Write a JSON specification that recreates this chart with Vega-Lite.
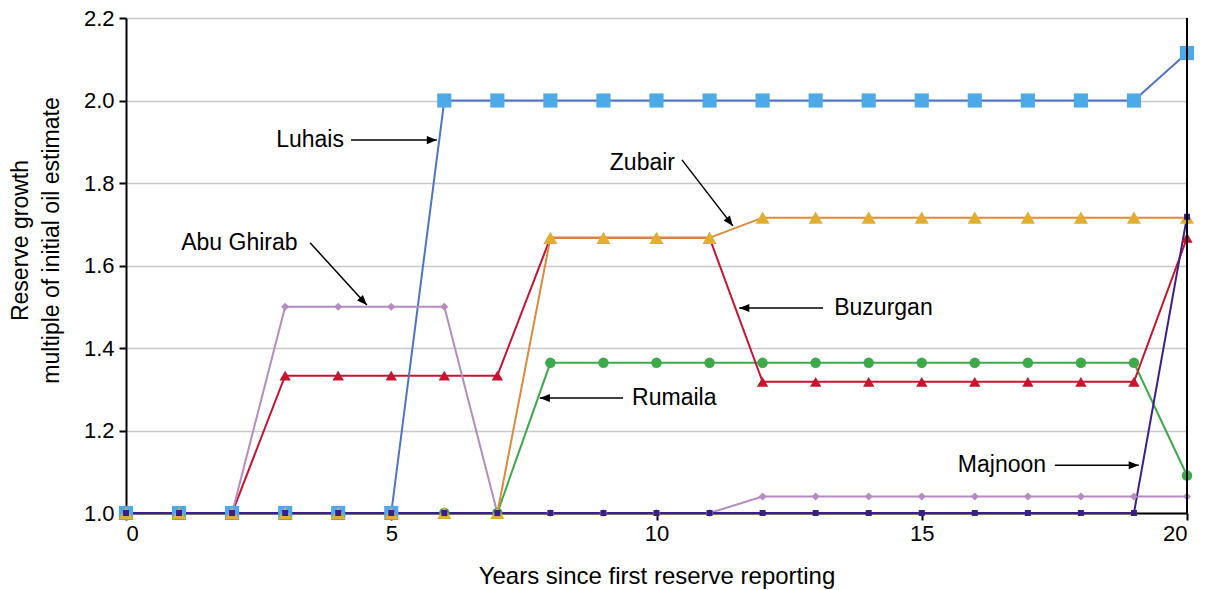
{
  "$schema": "https://vega.github.io/schema/vega-lite/v6.json",
  "autosize": "none",
  "width": 1061,
  "height": 495,
  "padding": {"left": 126, "top": 18, "right": 20, "bottom": 77},
  "background": "white",
  "config": {
    "font": "Liberation Sans",
    "view": {"stroke": null},
    "axis": {"labelFont": "Liberation Sans", "titleFont": "Liberation Sans", "labelColor": "black", "titleColor": "black", "titleFontWeight": "normal"}
  },
  "datasets": {
    "series": [
      {"s": "Rumaila", "x": 0, "y": 1}, {"s": "Rumaila", "x": 1, "y": 1}, {"s": "Rumaila", "x": 2, "y": 1}, {"s": "Rumaila", "x": 3, "y": 1}, {"s": "Rumaila", "x": 4, "y": 1}, {"s": "Rumaila", "x": 5, "y": 1}, {"s": "Rumaila", "x": 6, "y": 1}, {"s": "Rumaila", "x": 7, "y": 1}, {"s": "Rumaila", "x": 8, "y": 1.364}, {"s": "Rumaila", "x": 9, "y": 1.364}, {"s": "Rumaila", "x": 10, "y": 1.364}, {"s": "Rumaila", "x": 11, "y": 1.364}, {"s": "Rumaila", "x": 12, "y": 1.364}, {"s": "Rumaila", "x": 13, "y": 1.364}, {"s": "Rumaila", "x": 14, "y": 1.364}, {"s": "Rumaila", "x": 15, "y": 1.364}, {"s": "Rumaila", "x": 16, "y": 1.364}, {"s": "Rumaila", "x": 17, "y": 1.364}, {"s": "Rumaila", "x": 18, "y": 1.364}, {"s": "Rumaila", "x": 19, "y": 1.364}, {"s": "Rumaila", "x": 20, "y": 1.091},
      {"s": "Buzurgan", "x": 0, "y": 1}, {"s": "Buzurgan", "x": 1, "y": 1}, {"s": "Buzurgan", "x": 2, "y": 1}, {"s": "Buzurgan", "x": 3, "y": 1.333}, {"s": "Buzurgan", "x": 4, "y": 1.333}, {"s": "Buzurgan", "x": 5, "y": 1.333}, {"s": "Buzurgan", "x": 6, "y": 1.333}, {"s": "Buzurgan", "x": 7, "y": 1.333}, {"s": "Buzurgan", "x": 8, "y": 1.667}, {"s": "Buzurgan", "x": 9, "y": 1.667}, {"s": "Buzurgan", "x": 10, "y": 1.667}, {"s": "Buzurgan", "x": 11, "y": 1.667}, {"s": "Buzurgan", "x": 12, "y": 1.318}, {"s": "Buzurgan", "x": 13, "y": 1.318}, {"s": "Buzurgan", "x": 14, "y": 1.318}, {"s": "Buzurgan", "x": 15, "y": 1.318}, {"s": "Buzurgan", "x": 16, "y": 1.318}, {"s": "Buzurgan", "x": 17, "y": 1.318}, {"s": "Buzurgan", "x": 18, "y": 1.318}, {"s": "Buzurgan", "x": 19, "y": 1.318}, {"s": "Buzurgan", "x": 20, "y": 1.667},
      {"s": "Luhais", "x": 0, "y": 1}, {"s": "Luhais", "x": 1, "y": 1}, {"s": "Luhais", "x": 2, "y": 1}, {"s": "Luhais", "x": 3, "y": 1}, {"s": "Luhais", "x": 4, "y": 1}, {"s": "Luhais", "x": 5, "y": 1}, {"s": "Luhais", "x": 6, "y": 2}, {"s": "Luhais", "x": 7, "y": 2}, {"s": "Luhais", "x": 8, "y": 2}, {"s": "Luhais", "x": 9, "y": 2}, {"s": "Luhais", "x": 10, "y": 2}, {"s": "Luhais", "x": 11, "y": 2}, {"s": "Luhais", "x": 12, "y": 2}, {"s": "Luhais", "x": 13, "y": 2}, {"s": "Luhais", "x": 14, "y": 2}, {"s": "Luhais", "x": 15, "y": 2}, {"s": "Luhais", "x": 16, "y": 2}, {"s": "Luhais", "x": 17, "y": 2}, {"s": "Luhais", "x": 18, "y": 2}, {"s": "Luhais", "x": 19, "y": 2}, {"s": "Luhais", "x": 20, "y": 2.115},
      {"s": "Zubair", "x": 0, "y": 1}, {"s": "Zubair", "x": 1, "y": 1}, {"s": "Zubair", "x": 2, "y": 1}, {"s": "Zubair", "x": 3, "y": 1}, {"s": "Zubair", "x": 4, "y": 1}, {"s": "Zubair", "x": 5, "y": 1}, {"s": "Zubair", "x": 6, "y": 1}, {"s": "Zubair", "x": 7, "y": 1}, {"s": "Zubair", "x": 8, "y": 1.667}, {"s": "Zubair", "x": 9, "y": 1.667}, {"s": "Zubair", "x": 10, "y": 1.667}, {"s": "Zubair", "x": 11, "y": 1.667}, {"s": "Zubair", "x": 12, "y": 1.716}, {"s": "Zubair", "x": 13, "y": 1.716}, {"s": "Zubair", "x": 14, "y": 1.716}, {"s": "Zubair", "x": 15, "y": 1.716}, {"s": "Zubair", "x": 16, "y": 1.716}, {"s": "Zubair", "x": 17, "y": 1.716}, {"s": "Zubair", "x": 18, "y": 1.716}, {"s": "Zubair", "x": 19, "y": 1.716}, {"s": "Zubair", "x": 20, "y": 1.716},
      {"s": "Abu Ghirab", "x": 0, "y": 1}, {"s": "Abu Ghirab", "x": 1, "y": 1}, {"s": "Abu Ghirab", "x": 2, "y": 1}, {"s": "Abu Ghirab", "x": 3, "y": 1.5}, {"s": "Abu Ghirab", "x": 4, "y": 1.5}, {"s": "Abu Ghirab", "x": 5, "y": 1.5}, {"s": "Abu Ghirab", "x": 6, "y": 1.5}, {"s": "Abu Ghirab", "x": 7, "y": 1}, {"s": "Abu Ghirab", "x": 8, "y": 1}, {"s": "Abu Ghirab", "x": 9, "y": 1}, {"s": "Abu Ghirab", "x": 10, "y": 1}, {"s": "Abu Ghirab", "x": 11, "y": 1}, {"s": "Abu Ghirab", "x": 12, "y": 1.04}, {"s": "Abu Ghirab", "x": 13, "y": 1.04}, {"s": "Abu Ghirab", "x": 14, "y": 1.04}, {"s": "Abu Ghirab", "x": 15, "y": 1.04}, {"s": "Abu Ghirab", "x": 16, "y": 1.04}, {"s": "Abu Ghirab", "x": 17, "y": 1.04}, {"s": "Abu Ghirab", "x": 18, "y": 1.04}, {"s": "Abu Ghirab", "x": 19, "y": 1.04}, {"s": "Abu Ghirab", "x": 20, "y": 1.04},
      {"s": "Majnoon", "x": 0, "y": 1}, {"s": "Majnoon", "x": 1, "y": 1}, {"s": "Majnoon", "x": 2, "y": 1}, {"s": "Majnoon", "x": 3, "y": 1}, {"s": "Majnoon", "x": 4, "y": 1}, {"s": "Majnoon", "x": 5, "y": 1}, {"s": "Majnoon", "x": 6, "y": 1}, {"s": "Majnoon", "x": 7, "y": 1}, {"s": "Majnoon", "x": 8, "y": 1}, {"s": "Majnoon", "x": 9, "y": 1}, {"s": "Majnoon", "x": 10, "y": 1}, {"s": "Majnoon", "x": 11, "y": 1}, {"s": "Majnoon", "x": 12, "y": 1}, {"s": "Majnoon", "x": 13, "y": 1}, {"s": "Majnoon", "x": 14, "y": 1}, {"s": "Majnoon", "x": 15, "y": 1}, {"s": "Majnoon", "x": 16, "y": 1}, {"s": "Majnoon", "x": 17, "y": 1}, {"s": "Majnoon", "x": 18, "y": 1}, {"s": "Majnoon", "x": 19, "y": 1}, {"s": "Majnoon", "x": 20, "y": 1.718}
    ],
    "notes": [
      {"label": "Luhais", "tx": 2.83, "ty": 1.904, "x1": 4.24, "y1": 1.904, "x2": 5.86, "y2": 1.904},
      {"label": "Zubair", "tx": 9.12, "ty": 1.848, "x1": 10.48, "y1": 1.856, "x2": 11.44, "y2": 1.696},
      {"label": "Abu Ghirab", "tx": 1.04, "ty": 1.655, "x1": 3.47, "y1": 1.655, "x2": 4.54, "y2": 1.504},
      {"label": "Buzurgan", "tx": 13.35, "ty": 1.497, "x1": 13.14, "y1": 1.497, "x2": 11.56, "y2": 1.497},
      {"label": "Rumaila", "tx": 9.54, "ty": 1.279, "x1": 9.37, "y1": 1.279, "x2": 7.8, "y2": 1.279},
      {"label": "Majnoon", "tx": 15.68, "ty": 1.116, "x1": 17.51, "y1": 1.116, "x2": 19.09, "y2": 1.116}
    ]
  },
  "layer": [
    {
      "data": {"name": "series"},
      "mark": {"type": "line", "strokeWidth": 2, "clip": false},
      "encoding": {
        "x": {"field": "x", "type": "quantitative", "scale": {"domain": [0, 20], "nice": false, "zero": false},
          "axis": {"values": [0, 5, 10, 15, 20], "grid": false, "domainColor": "black", "domainWidth": 2, "tickColor": "black", "tickWidth": 2, "tickSize": 7, "labelFontSize": 22, "labelPadding": 3, "title": "Years since first reserve reporting", "titleFontSize": 24, "titlePadding": 20}},
        "y": {"field": "y", "type": "quantitative", "scale": {"domain": [1, 2.2], "nice": false, "zero": false},
          "axis": {"values": [1, 1.2, 1.4, 1.6, 1.8, 2, 2.2], "format": ".1f", "grid": true, "gridColor": "#c8c8c8", "gridWidth": 1.5, "domainColor": "black", "domainWidth": 2, "tickColor": "black", "tickWidth": 2, "tickSize": 7, "labelFontSize": 22, "labelPadding": 5, "title": ["Reserve growth", "multiple of initial oil estimate"], "titleFontSize": 23, "titleLineHeight": 31, "titleX": -106, "titleY": 222, "titleAngle": -90, "titleBaseline": "middle"}},
        "stroke": {"field": "s", "type": "nominal", "legend": null,
          "scale": {"domain": ["Luhais", "Zubair", "Rumaila", "Buzurgan", "Abu Ghirab", "Majnoon"], "range": ["#4F74C4", "#E0893A", "#3DA94A", "#C8142F", "#B48CC0", "#3A1F8C"]}},
        "detail": {"field": "s"}
      }
    },
    {
      "data": {"name": "series"},
      "mark": {"type": "point", "filled": true, "opacity": 1, "clip": false},
      "encoding": {
        "x": {"field": "x", "type": "quantitative"},
        "y": {"field": "y", "type": "quantitative"},
        "fill": {"field": "s", "type": "nominal", "legend": null,
          "scale": {"domain": ["Luhais", "Zubair", "Rumaila", "Buzurgan", "Abu Ghirab", "Majnoon"], "range": ["#4DAAE8", "#E2AE30", "#3DA94A", "#C8142F", "#B48CC0", "#3A1F8C"]}},
        "shape": {"field": "s", "type": "nominal", "legend": null,
          "scale": {"domain": ["Luhais", "Zubair", "Rumaila", "Buzurgan", "Abu Ghirab", "Majnoon"], "range": ["square", "triangle-up", "circle", "triangle-up", "diamond", "square"]}},
        "size": {"field": "s", "type": "nominal", "legend": null,
          "scale": {"type": "ordinal", "domain": ["Luhais", "Zubair", "Rumaila", "Buzurgan", "Abu Ghirab", "Majnoon"], "range": [200, 200, 110, 130, 64, 36]}}
      }
    },
    {
      "data": {"name": "series"},
      "mark": {"type": "rule", "color": "black", "strokeWidth": 2},
      "encoding": {
        "x": {"datum": 20, "type": "quantitative"},
        "y": {"datum": 1, "type": "quantitative"},
        "y2": {"datum": 2.2}
      }
    },
    {
      "data": {"name": "notes"},
      "mark": {"type": "text", "align": "left", "baseline": "middle", "fontSize": 23, "font": "Liberation Sans", "color": "black"},
      "encoding": {
        "x": {"field": "tx", "type": "quantitative"},
        "y": {"field": "ty", "type": "quantitative"},
        "text": {"field": "label"}
      }
    },
    {
      "data": {"name": "notes"},
      "mark": {"type": "rule", "color": "black", "strokeWidth": 1.5},
      "encoding": {
        "x": {"field": "x1", "type": "quantitative"},
        "y": {"field": "y1", "type": "quantitative"},
        "x2": {"field": "x2"},
        "y2": {"field": "y2"}
      }
    },
    {
      "data": {"name": "notes"},
      "mark": {"type": "point", "filled": true, "opacity": 1, "color": "black", "size": 180, "shape": "M0,0L0.6,1.5L-0.6,1.5Z"},
      "encoding": {
        "x": {"field": "x2", "type": "quantitative"},
        "y": {"field": "y2", "type": "quantitative"},
        "angle": {"field": "label", "type": "nominal", "legend": null,
          "scale": {"type": "ordinal", "domain": ["Luhais", "Zubair", "Abu Ghirab", "Buzurgan", "Rumaila", "Majnoon"], "range": [90, 142, 137, 270, 270, 90]}}
      }
    }
  ]
}
